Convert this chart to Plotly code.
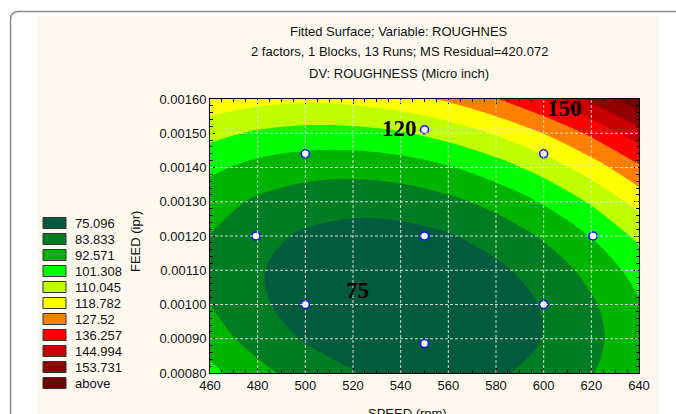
import plotly.graph_objects as go

# ---- data -------------------------------------------------------------
SPEED = [460, 480, 500, 520, 540, 560, 580, 600, 620, 640]
FEED = [0.0008, 0.0009, 0.0010, 0.0011, 0.0012, 0.0013, 0.0014, 0.0015, 0.0016]
# fitted roughness surface (rows follow FEED, columns follow SPEED)
ROUGHNESS = [
    [95.0, 86.5, 79.9, 75.4, 73.0, 72.5, 74.0, 77.6, 83.2, 90.8],
    [88.0, 80.2, 74.3, 70.5, 68.6, 68.8, 71.1, 75.3, 81.5, 89.8],
    [83.8, 76.6, 71.4, 68.2, 67.1, 67.9, 70.8, 75.7, 82.6, 91.6],
    [82.3, 75.8, 71.3, 68.7, 68.2, 69.8, 73.3, 78.9, 86.4, 96.0],
    [83.6, 77.7, 73.9, 72.0, 72.2, 74.3, 78.6, 84.8, 93.0, 103.3],
    [87.6, 82.4, 79.2, 78.0, 78.8, 81.7, 86.5, 93.4, 102.3, 113.3],
    [94.4, 89.8, 87.3, 86.8, 88.2, 91.8, 97.3, 104.8, 114.4, 126.0],
    [103.9, 100.0, 98.1, 98.3, 100.4, 104.6, 110.8, 119.0, 129.2, 141.4],
    [116.2, 112.9, 111.7, 112.5, 115.3, 120.2, 127.0, 135.9, 146.8, 159.7],
]
# design runs
RUN_SPEED = [500, 600, 479.3, 550, 620.7, 500, 600, 550, 550]
RUN_FEED = [0.00144, 0.00144, 0.0012, 0.0012, 0.0012, 0.001, 0.001, 0.000886, 0.00151]

LEVEL_START = 75.096
LEVEL_END = 153.731
LEVEL_STEP = 8.737
LEGEND_LABELS = ["75.096", "83.833", "92.571", "101.308", "110.045", "118.782",
                 "127.52", "136.257", "144.994", "153.731", "above"]
BAND_COLORS = ['#005C3C', '#007C22', '#00B400', '#00FF00', '#BFFF00', '#FFFF00',
               '#FF8000', '#FF0000', '#C80000', '#900000', '#700000']
CONTOUR_LABELS = ["75", "120", "150"]
CONTOUR_LABEL_SPEED = [521.9, 539.4, 608.6]
CONTOUR_LABEL_FEED = [0.00104, 0.001515, 0.001571]
X_TICKS = list(range(460, 641, 20))
Y_TICKS = FEED
TITLE_LINES = ["Fitted Surface; Variable: ROUGHNES",
               "2 factors, 1 Blocks, 13 Runs; MS Residual=420.072",
               "DV: ROUGHNESS (Micro inch)"]

# ---- figure -----------------------------------------------------------
W, H = 676, 414
ML, MR, MT, MB = 210, 37, 99, 41
PW, PH = W - ML - MR, H - MT - MB


def px(x):
    return (x - ML) / PW


def py(y):
    return (H - MB - y) / PH


fig = go.Figure()
cs = [[j / 10, c] for j, c in enumerate(BAND_COLORS)]
fig.add_trace(go.Contour(
    x=SPEED, y=FEED, z=ROUGHNESS, colorscale=cs, showscale=False, autocontour=False,
    contours=dict(start=LEVEL_START, end=LEVEL_END, size=LEVEL_STEP, coloring='fill', showlines=False),
    line=dict(width=0, smoothing=1), hoverinfo='skip'))
fig.add_trace(go.Scatter(
    x=RUN_SPEED, y=RUN_FEED, mode='markers', hoverinfo='skip',
    marker=dict(symbol='circle', size=8, color='white', line=dict(color='#1515ff', width=1.6))))

shapes = []
# cream panel
shapes.append(dict(type='rect', xref='paper', yref='paper', x0=px(37), x1=px(659), y0=py(440), y1=py(16),
                   fillcolor='#fdf9ef', line=dict(width=0), layer='below'))
# rounded outer frame
fx0, fx1, fyt, fyb = px(10.5), px(720), py(11.5), py(460)
rx, ry = 8 / PW, 8 / PH
shapes.append(dict(type='path', xref='paper', yref='paper', layer='below',
                   path=f"M {fx0},{fyb} L {fx0},{fyt - ry} Q {fx0},{fyt} {fx0 + rx},{fyt} L {fx1},{fyt}",
                   line=dict(color='#8a8a8a', width=1.5), fillcolor='rgba(0,0,0,0)'))
# dashed grid above the surface
for x in X_TICKS[1:-1]:
    shapes.append(dict(type='line', xref='x', yref='paper', x0=x, x1=x, y0=0, y1=1,
                       line=dict(color='rgba(232,232,232,0.9)', width=1, dash='3px,2px'), layer='above'))
for y in Y_TICKS[1:-1]:
    shapes.append(dict(type='line', xref='paper', yref='y', x0=0, x1=1, y0=y, y1=y,
                       line=dict(color='rgba(232,232,232,0.9)', width=1, dash='3px,2px'), layer='above'))

anns = []
for i, (lab, col) in enumerate(zip(LEGEND_LABELS, BAND_COLORS)):
    yc = 223 + 16 * i
    shapes.append(dict(type='rect', xref='paper', yref='paper', x0=px(43), x1=px(66),
                       y0=py(yc + 5.5), y1=py(yc - 5.5),
                       fillcolor=col, line=dict(color='#333333', width=1), layer='above'))
    anns.append(dict(xref='paper', yref='paper', x=px(73), y=py(yc), text=lab, showarrow=False,
                     xanchor='left', yanchor='middle', font=dict(size=13, color='#111111')))
for txt, yy in zip(TITLE_LINES, [31, 52, 73]):
    anns.append(dict(xref='paper', yref='paper', x=px(399), y=py(yy), text=txt, showarrow=False,
                     xanchor='center', yanchor='middle', font=dict(size=13, color='#111111')))
anns.append(dict(xref='paper', yref='paper', x=px(135), y=py(242), text="FEED (ipr)", textangle=-90,
                 showarrow=False, xanchor='center', yanchor='middle', font=dict(size=13, color='#111111')))
anns.append(dict(xref='paper', yref='paper', x=px(407), y=py(404), text="SPEED (rpm)", showarrow=False,
                 xanchor='center', yanchor='top', font=dict(size=13, color='#111111')))
for t, x, y in zip(CONTOUR_LABELS, CONTOUR_LABEL_SPEED, CONTOUR_LABEL_FEED):
    anns.append(dict(x=x, y=y, text='<b>%s</b>' % t, showarrow=False,
                     font=dict(family='Liberation Serif', size=23, color='black')))

fig.update_layout(
    width=W, height=H, margin=dict(l=ML, r=MR, t=MT, b=MB),
    paper_bgcolor='white', plot_bgcolor='#fdf9ef',
    font=dict(family='Liberation Sans', size=13, color='#111111'),
    shapes=shapes, annotations=anns, showlegend=False,
    xaxis=dict(range=[460, 640], tickvals=X_TICKS, showgrid=False, zeroline=False, showline=True,
               linecolor='black', mirror='ticks', ticks='inside', ticklen=5, tickcolor='black',
               minor=dict(dtick=5, ticks='inside', ticklen=3, tickcolor='black')),
    yaxis=dict(range=[0.0008, 0.0016], tickvals=Y_TICKS, tickformat='.5f', showgrid=False, zeroline=False,
               showline=True, linecolor='black', mirror='ticks', ticks='inside', ticklen=5, tickcolor='black',
               minor=dict(dtick=0.00002, ticks='inside', ticklen=3, tickcolor='black')))
fig.write_html("out.html")
